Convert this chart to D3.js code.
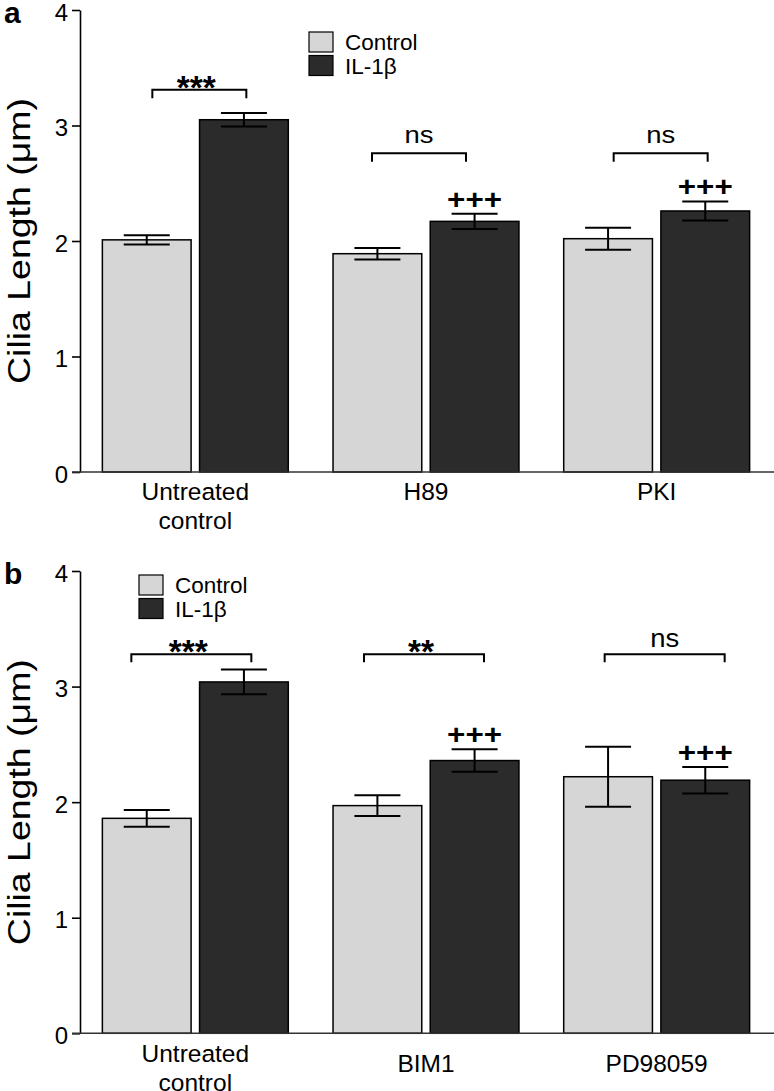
<!DOCTYPE html>
<html>
<head>
<meta charset="utf-8">
<script src="https://cdn.jsdelivr.net/npm/d3@7"></script>
<style>
  html, body { margin: 0; padding: 0; background: #fff; }
  svg { display: block; }
  text { font-family: "Liberation Sans", Arial, Helvetica, sans-serif; fill: #000; }
</style>
</head>
<body>
<svg id="chart" width="774" height="1091"></svg>
<script>
// ---------- data ----------
const series = ["Control", "IL-1β"];
const yTicks = [0, 1, 2, 3, 4];

const groupsA = ["Untreated\ncontrol", "H89", "PKI"];
const controlA = [2.01, 1.89, 2.02];
const controlErrA = [0.04, 0.05, 0.095];
const il1bA = [3.05, 2.17, 2.26];
const il1bErrA = [0.058, 0.067, 0.083];
const sigLabelA = ["***", "ns", "ns"];
const sigLevelA = [3.31, 2.76, 2.76];
const plusA = ["", "+++", "+++"];

const groupsB = ["Untreated\ncontrol", "BIM1", "PD98059"];
const controlB = [1.86, 1.97, 2.22];
const controlErrB = [0.072, 0.089, 0.26];
const il1bB = [3.04, 2.36, 2.19];
const il1bErrB = [0.107, 0.097, 0.115];
const sigLabelB = ["***", "**", "ns"];
const sigLevelB = [3.28, 3.28, 3.28];
const plusB = ["", "+++", "+++"];

// ---------- layout ----------
const svg = d3.select("#chart");
const colors = { "Control": "#d6d6d6", "IL-1β": "#2b2b2b" };

function drawPanel(cfg) {
  const g = svg.append("g");
  const y = d3.scaleLinear().domain([0, 4]).range([cfg.y0, cfg.y4]);
  const x0 = d3.scaleBand().domain(cfg.groups).range([80, 772])
    .paddingInner(0.194).paddingOuter(0.097);
  const x1 = d3.scaleBand().domain(series).range([0, x0.bandwidth()])
    .paddingInner(0.087).paddingOuter(0);

  const rows = cfg.groups.map((grp, i) => ({
    grp, i,
    vals: [
      { s: "Control", v: cfg.control[i], e: cfg.controlErr[i] },
      { s: "IL-1β", v: cfg.il1b[i], e: cfg.il1bErr[i] }
    ]
  }));

  // bars
  const gg = g.selectAll("g.grp").data(rows).join("g")
    .attr("transform", d => `translate(${x0(d.grp)},0)`);
  gg.selectAll("rect").data(d => d.vals).join("rect")
    .attr("x", d => x1(d.s))
    .attr("y", d => y(d.v))
    .attr("width", x1.bandwidth())
    .attr("height", d => y(0) - y(d.v))
    .attr("fill", d => colors[d.s])
    .attr("stroke", "#000")
    .attr("stroke-width", 1.5);

  // error bars
  const capHalf = 23;
  gg.selectAll("g.err").data(d => d.vals).join("g").attr("class", "err")
    .each(function (d) {
      const cx = x1(d.s) + x1.bandwidth() / 2;
      const s = d3.select(this);
      s.append("line").attr("x1", cx).attr("x2", cx)
        .attr("y1", y(d.v + d.e)).attr("y2", y(d.v - d.e));
      s.append("line").attr("x1", cx - capHalf).attr("x2", cx + capHalf)
        .attr("y1", y(d.v + d.e)).attr("y2", y(d.v + d.e));
      s.append("line").attr("x1", cx - capHalf).attr("x2", cx + capHalf)
        .attr("y1", y(d.v - d.e)).attr("y2", y(d.v - d.e));
    })
    .selectAll("line").attr("stroke", "#000").attr("stroke-width", 2);

  // +++ markers
  gg.filter(d => cfg.plus[d.i] !== "").append("text")
    .attr("x", x1("IL-1β") + x1.bandwidth() / 2)
    .attr("y", d => y(cfg.il1b[d.i] + cfg.il1bErr[d.i]) - 5)
    .attr("text-anchor", "middle")
    .attr("font-size", 27).attr("font-weight", "bold")
    .attr("textLength", 55).attr("lengthAdjust", "spacingAndGlyphs")
    .text(d => cfg.plus[d.i]);

  // significance brackets
  rows.forEach((d, i) => {
    const cx = x0(d.grp) + x0.bandwidth() / 2 + cfg.bracketShift[i];
    const by = y(cfg.sigLevel[i]);
    g.append("path")
      .attr("d", `M${cx - cfg.bracketHalf},${by + cfg.bracketDrop}V${by}H${cx + cfg.bracketHalf}V${by + cfg.bracketDrop}`)
      .attr("fill", "none").attr("stroke", "#000").attr("stroke-width", 2);
    const lab = cfg.sigLabel[i];
    const isStar = lab.indexOf("*") >= 0;
    const t = g.append("text")
      .attr("x", cx - (isStar ? 3 : 0))
      .attr("text-anchor", "middle")
      .text(lab);
    if (isStar) {
      t.attr("y", by + 9).attr("font-size", 34).attr("font-weight", "bold")
        .attr("textLength", lab.length * 13).attr("lengthAdjust", "spacingAndGlyphs");
    } else {
      t.attr("y", by - cfg.nsGap).attr("font-size", cfg.nsSize)
        .attr("textLength", 29).attr("lengthAdjust", "spacingAndGlyphs");
    }
  });

  // y axis
  const ya = g.append("g").attr("transform", "translate(80,0)")
    .call(d3.axisLeft(y).tickValues(yTicks).tickFormat(d3.format("d")).tickSize(8).tickSizeOuter(0).tickPadding(4));
  ya.select(".domain").attr("stroke", "#000").attr("stroke-width", 1.6);
  ya.selectAll(".tick line").attr("stroke", "#000").attr("stroke-width", 1.6);
  ya.selectAll(".tick text").attr("font-size", 24).attr("dy", 10)
    .attr("font-family", '"Liberation Sans", Arial, sans-serif').attr("fill", "#000");

  // x axis baseline
  g.append("line").attr("x1", 72).attr("x2", 774)
    .attr("y1", y(0)).attr("y2", y(0))
    .attr("stroke", "#333").attr("stroke-width", 1.6);

  // category labels
  cfg.groups.forEach((grp, i) => {
    const lines = grp.split("\n");
    const cx = x0(grp) + x0.bandwidth() / 2;
    const t = g.append("text").attr("text-anchor", "middle").attr("font-size", 24.5)
      .attr("x", cx)
      .attr("y", y(0) + (lines.length > 1 ? cfg.multiOffset : cfg.singleOffset));
    lines.forEach((ln, k) => {
      t.append("tspan").attr("x", cx).attr("dy", k === 0 ? 0 : 29).text(ln);
    });
  });

  // y label
  const ymid = (cfg.y0 + cfg.y4) / 2;
  g.append("text")
    .attr("transform", `translate(30,${ymid}) rotate(-90)`)
    .attr("text-anchor", "middle")
    .attr("font-size", 32)
    .attr("textLength", 286).attr("lengthAdjust", "spacingAndGlyphs")
    .text("Cilia Length (μm)");

  // panel letter
  g.append("text").attr("x", 4).attr("y", cfg.letterY)
    .attr("font-size", 30).attr("font-weight", "bold").text(cfg.letter);

  // legend
  const lg = g.append("g").attr("transform", `translate(${cfg.legX},${cfg.legY})`);
  series.forEach((s, k) => {
    lg.append("rect").attr("x", 0).attr("y", k * 23.5).attr("width", 24).attr("height", 20)
      .attr("fill", colors[s]).attr("stroke", "#000").attr("stroke-width", 1.2);
    lg.append("text").attr("x", 36).attr("y", k * 23.5 + 18).attr("font-size", 22.5).text(s);
  });
}

drawPanel({
  letter: "a", letterY: 23,
  y0: 472, y4: 10,
  groups: groupsA, control: controlA, controlErr: controlErrA,
  il1b: il1bA, il1bErr: il1bErrA,
  sigLabel: sigLabelA, sigLevel: sigLevelA, plus: plusA,
  bracketHalf: 47, bracketDrop: 8.5, bracketShift: [4, -7, 4],
  nsGap: 10, nsSize: 24,
  multiOffset: 28, singleOffset: 28,
  legX: 309, legY: 32
});

drawPanel({
  letter: "b", letterY: 584,
  y0: 1033.3, y4: 571,
  groups: groupsB, control: controlB, controlErr: controlErrB,
  il1b: il1bB, il1bErr: il1bErrB,
  sigLabel: sigLabelB, sigLevel: sigLevelB, plus: plusB,
  bracketHalf: 60, bracketDrop: 8, bracketShift: [-4, -2, 8],
  nsGap: 7, nsSize: 26,
  multiOffset: 29, singleOffset: 39,
  legX: 139, legY: 575
});
</script>
</body>
</html>
